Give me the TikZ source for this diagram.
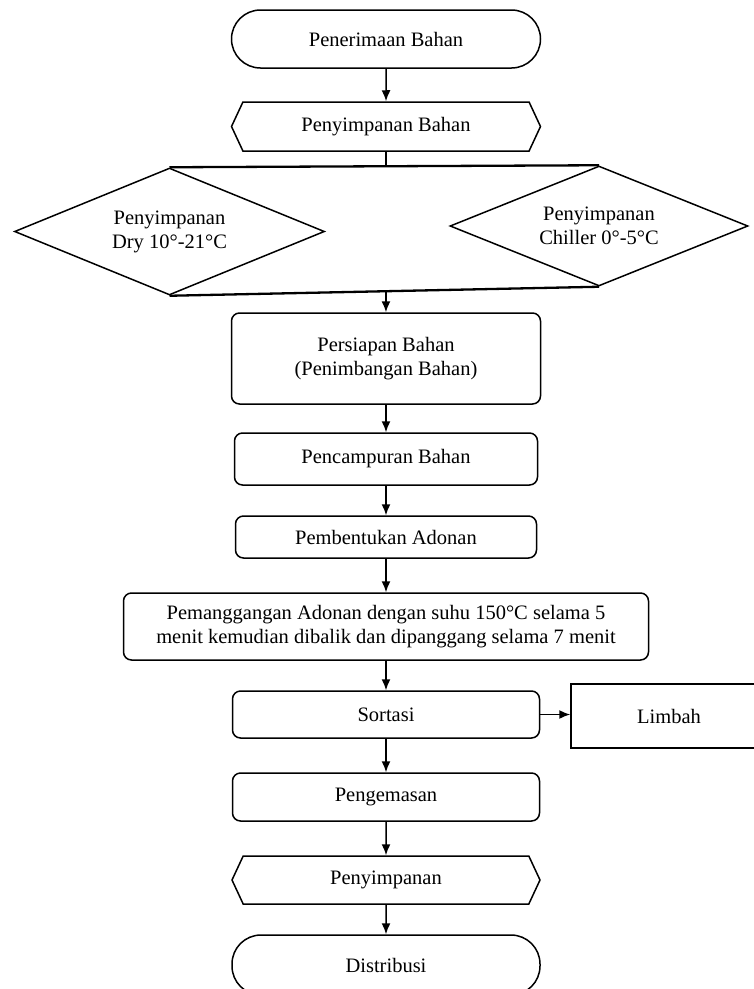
\documentclass[tikz,border=0pt]{standalone}
\usepackage{fontspec}
\setmainfont{Liberation Serif}
\usetikzlibrary{shapes.geometric,shapes.symbols,arrows.meta,calc}
\tikzset{>=latex}
\tikzset{terminal/.style = {shape=rectangle, draw, line width=1.5pt, rounded corners=29pt}}
\tikzset{storage/.style = {shape=signal, signal to=west and east, signal pointer angle=130, draw, line width=1.5pt}}
\tikzset{decision/.style = {shape=diamond, draw, line width=1.5pt, aspect=2.4, inner sep=2pt, align=center}}
\tikzset{process/.style = {shape=rectangle, draw, line width=1.5pt, rounded corners=8pt, align=center}}
\tikzset{plainbox/.style = {shape=rectangle, draw, line width=1.5pt}}
\tikzset{flow/.style = {-{Latex[length=11pt,width=9pt]}, line width=1.5pt}}
\tikzset{bar/.style = {line width=2.3pt}}

\begin{document}
\begin{tikzpicture}[x=1pt, y=-1pt, font=\fontsize{20.5}{24}\selectfont]
    \useasboundingbox (0,0) rectangle (754,989);

    % Nodes
    \node[terminal, minimum width=309pt, minimum height=58pt] (recv) at (386,39) {Penerimaan Bahan};
    \node[storage, minimum width=309pt, minimum height=49pt] (store) at (386,126.5) {Penyimpanan Bahan};
    \node[decision, minimum width=310pt, minimum height=127pt] (dry) at (169.5,231.5) {Penyimpanan\\Dry 10°-21°C};
    \node[decision, minimum width=298pt, minimum height=120pt] (chill) at (599,226) {Penyimpanan\\Chiller 0°-5°C};
    \node[process, minimum width=309pt, minimum height=91pt] (prep) at (386,358.5) {Persiapan Bahan\\(Penimbangan Bahan)};
    \node[process, minimum width=303pt, minimum height=52pt] (mix) at (386,459) {Pencampuran Bahan};
    \node[process, minimum width=301pt, minimum height=42pt] (form) at (386,537) {Pembentukan Adonan};
    \node[process, minimum width=525pt, minimum height=67pt] (bake) at (386,626.5) {Pemanggangan Adonan dengan suhu 150°C selama 5\\menit kemudian dibalik dan dipanggang selama 7 menit};
    \node[process, minimum width=307pt, minimum height=47pt] (sort) at (386,714.5) {Sortasi};
    \node[plainbox, minimum width=196pt, minimum height=64pt] (waste) at (669,716) {Limbah};
    \node[process, minimum width=307pt, minimum height=48pt] (pack) at (386,797) {Pengemasan};
    \node[storage, minimum width=308pt, minimum height=48pt] (keep) at (386,880) {Penyimpanan};
    \node[terminal, minimum width=308pt, minimum height=60pt] (dist) at (386,965) {Distribusi};

    % Edges
    \draw[line width=1.5pt, flow] (recv) -- (store);
    \draw[line width=1.5pt] (store.south) -- (store.south |- dry.north);
    \draw[bar] (dry.north) -- (chill.north);
    \draw[bar] (dry.south) -- (chill.south);
    \coordinate (merge) at ($(dry.south)!0.504!(chill.south)$);
    \draw[flow] (merge) -- (merge |- prep.north);
    \draw[flow] (prep) -- (mix);
    \draw[flow] (mix) -- (form);
    \draw[flow] (form) -- (bake);
    \draw[flow] (bake) -- (sort);
    \draw[flow] (sort.east) -- (sort.east -| waste.west);
    \draw[flow] (sort) -- (pack);
    \draw[flow] (pack) -- (keep);
    \draw[flow] (keep) -- (dist);
\end{tikzpicture}
\end{document}
